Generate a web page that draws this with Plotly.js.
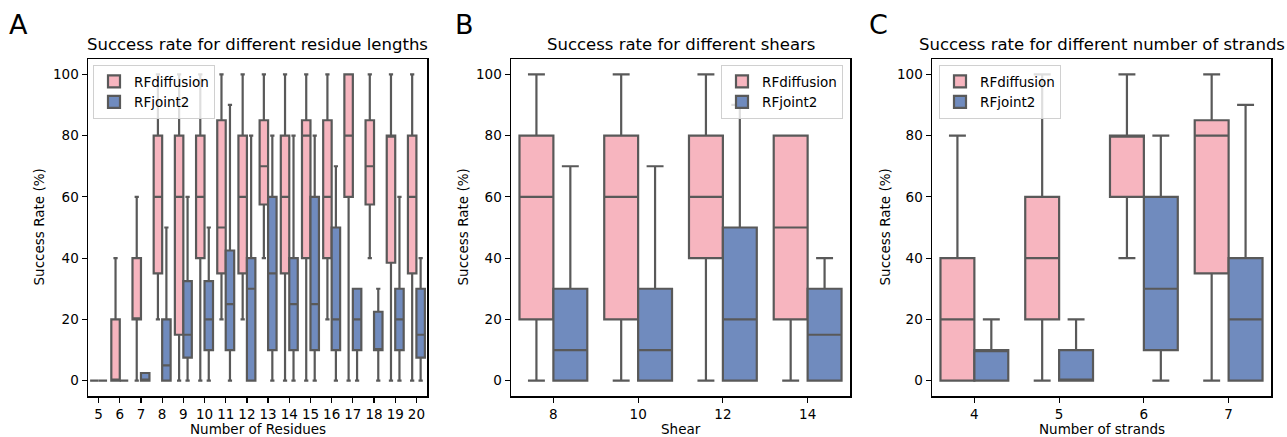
<!DOCTYPE html>
<html>
<head>
<meta charset="utf-8">
<script src="https://cdn.plot.ly/plotly-3.0.1.min.js"></script>
<style>html,body{margin:0;padding:0;background:#fff;}#chart{width:1287px;height:437px;}</style>
</head>
<body>
<div id="chart"></div>
<script>
// ---------- data ----------
const residueCats = ['5','6','7','8','9','10','11','12','13','14','15','16','17','18','19','20'];
const resDiffQ1    = [0, 0, 20, 35, 15, 40, 35, 35, 57.5, 35, 40, 40, 60, 57.5, 38.5, 35];
const resDiffMed   = [0, 0, 20, 60, 60, 60, 50, 60, 70, 60, 80, 60, 80, 70, 80, 60];
const resDiffQ3    = [0, 20, 40, 80, 80, 80, 85, 80, 85, 80, 85, 85, 100, 85, 80, 80];
const resDiffLo    = [0, 0, 0, 20, 0, 0, 20, 20, 40, 0, 0, 20, 0, 40, 0, 0];
const resDiffHi    = [0, 40, 60, 100, 100, 100, 100, 100, 100, 100, 100, 100, 100, 100, 100, 100];
const resJointQ1   = [0, 0, 0, 0, 7.5, 10, 10, 0, 10, 10, 10, 10, 10, 10, 10, 7.5];
const resJointMed  = [0, 0, 0, 5, 15, 20, 25, 30, 35, 25, 25, 20, 20, 10, 20, 15];
const resJointQ3   = [0, 0, 2.5, 20, 32.5, 32.5, 42.5, 40, 60, 40, 60, 50, 30, 22.5, 30, 30];
const resJointLo   = [0, 0, 0, 0, 0, 0, 0, 0, 0, 0, 0, 0, 0, 0, 0, 0];
const resJointHi   = [0, 0, 2.5, 50, 60, 50, 90, 80, 80, 80, 80, 70, 30, 30, 60, 40];

const shearCats    = ['8','10','12','14'];
const shDiffQ1     = [20, 20, 40, 20];
const shDiffMed    = [60, 60, 60, 50];
const shDiffQ3     = [80, 80, 80, 80];
const shDiffLo     = [0, 0, 0, 0];
const shDiffHi     = [100, 100, 100, 80];
const shJointQ1    = [0, 0, 0, 0];
const shJointMed   = [10, 10, 20, 15];
const shJointQ3    = [30, 30, 50, 30];
const shJointLo    = [0, 0, 0, 0];
const shJointHi    = [70, 70, 90, 40];

const strandCats   = ['4','5','6','7'];
const stDiffQ1     = [0, 20, 60, 35];
const stDiffMed    = [20, 40, 80, 80];
const stDiffQ3     = [40, 60, 80, 85];
const stDiffLo     = [0, 0, 40, 0];
const stDiffHi     = [80, 100, 100, 100];
const stJointQ1    = [0, 0, 10, 0];
const stJointMed   = [10, 0, 30, 20];
const stJointQ3    = [10, 10, 60, 40];
const stJointLo    = [0, 0, 0, 0];
const stJointHi    = [20, 20, 80, 90];

const yTicks = [0, 20, 40, 60, 80, 100];
const seriesNames = ['RFdiffusion', 'RFjoint2'];
const panelTitles = ['Success rate for different residue lengths', 'Success rate for different shears', 'Success rate for different number of strands'];
const xTitles = ['Number of Residues', 'Shear', 'Number of strands'];
const yTitle = 'Success Rate (%)';
const panelLetters = ['A', 'B', 'C'];

// ---------- styling ----------
const W = 1287, H = 437;
const PINK = '#F7B5BF', BLUE = '#708BBE', EDGE = '#595959';
const FONT = 'DejaVu Sans, sans-serif';
const px = x => x / W, py = y => 1 - y / H;

function box(name, cats, q1, med, q3, lo, hi, color, xa, ya, legend, panel) {
  return {
    type: 'box', name: name, x: cats, q1: q1, median: med, q3: q3,
    lowerfence: lo, upperfence: hi,
    fillcolor: color, line: {color: EDGE, width: 2.2}, whiskerwidth: 0.5,
    boxpoints: false, hoverinfo: 'skip',
    alignmentgroup: panel, offsetgroup: name,
    xaxis: xa, yaxis: ya, legend: legend
  };
}

const data = [
  box(seriesNames[0], residueCats, resDiffQ1, resDiffMed, resDiffQ3, resDiffLo, resDiffHi, PINK, 'x', 'y', 'legend', 'A'),
  box(seriesNames[1], residueCats, resJointQ1, resJointMed, resJointQ3, resJointLo, resJointHi, BLUE, 'x', 'y', 'legend', 'A'),
  box(seriesNames[0], shearCats, shDiffQ1, shDiffMed, shDiffQ3, shDiffLo, shDiffHi, PINK, 'x2', 'y2', 'legend2', 'B'),
  box(seriesNames[1], shearCats, shJointQ1, shJointMed, shJointQ3, shJointLo, shJointHi, BLUE, 'x2', 'y2', 'legend2', 'B'),
  box(seriesNames[0], strandCats, stDiffQ1, stDiffMed, stDiffQ3, stDiffLo, stDiffHi, PINK, 'x3', 'y3', 'legend3', 'C'),
  box(seriesNames[1], strandCats, stJointQ1, stJointMed, stJointQ3, stJointLo, stJointHi, BLUE, 'x3', 'y3', 'legend3', 'C')
];

const frames = [[88, 427], [511, 850], [932, 1271]];
const yDom = [py(396), py(59)];
const tickFont = {family: FONT, size: 13.5, color: '#000'};

function xAxis(i, cats, anchor) {
  return {
    domain: [px(frames[i][0]), px(frames[i][1])], anchor: anchor,
    type: 'category', categoryorder: 'array', categoryarray: cats,
    range: [-0.5, cats.length - 0.5],
    showline: true, mirror: true, linecolor: '#000', linewidth: 1.5,
    ticks: 'outside', ticklen: 5, tickwidth: 1.2, tickcolor: '#000',
    showgrid: false, zeroline: false, tickfont: tickFont, fixedrange: true
  };
}
function yAxis(anchor) {
  return {
    domain: yDom, anchor: anchor, range: [-5, 105],
    tickvals: yTicks, ticktext: yTicks.map(String),
    showline: true, mirror: true, linecolor: '#000', linewidth: 1.5,
    ticks: 'outside', ticklen: 5, tickwidth: 1.2, tickcolor: '#000',
    showgrid: false, zeroline: false, tickfont: tickFont, fixedrange: true
  };
}
function legend(x, xanchor) {
  return {
    x: x, xanchor: xanchor, y: py(65), yanchor: 'top',
    bgcolor: 'rgba(255,255,255,0.8)', bordercolor: '#d0d0d0', borderwidth: 1,
    font: {family: FONT, size: 13.5, color: '#000'}, tracegroupgap: 2
  };
}

const annotations = [];
const centers = frames.map(f => (f[0] + f[1]) / 2);
panelTitles.forEach((t, i) => annotations.push({
  text: t, xref: 'paper', yref: 'paper', x: px(centers[i]), y: py(44),
  xanchor: 'center', yanchor: 'middle', showarrow: false,
  font: {family: FONT, size: 16.5, color: '#000'}
}));
xTitles.forEach((t, i) => annotations.push({
  text: t, xref: 'paper', yref: 'paper', x: px(centers[i]), y: py(428.5),
  xanchor: 'center', yanchor: 'middle', showarrow: false,
  font: {family: FONT, size: 13.5, color: '#000'}
}));
const yTitleX = [38, 462, 884];
yTitleX.forEach(x => annotations.push({
  text: yTitle, xref: 'paper', yref: 'paper', x: px(x), y: py(227.5),
  xanchor: 'center', yanchor: 'middle', showarrow: false, textangle: -90,
  font: {family: FONT, size: 13.5, color: '#000'}
}));
const letterX = [18, 464, 878];
panelLetters.forEach((t, i) => annotations.push({
  text: t, xref: 'paper', yref: 'paper', x: px(letterX[i]), y: py(24),
  xanchor: 'center', yanchor: 'middle', showarrow: false,
  font: {family: 'DejaVu Sans, sans-serif', size: 27, color: '#000'}
}));

const layout = {
  width: W, height: H, margin: {l: 0, r: 0, t: 0, b: 0},
  paper_bgcolor: '#fff', plot_bgcolor: '#fff',
  boxmode: 'group', boxgap: 0.2, boxgroupgap: 0,
  showlegend: true,
  xaxis: xAxis(0, residueCats, 'y'), yaxis: yAxis('x'),
  xaxis2: xAxis(1, shearCats, 'y2'), yaxis2: yAxis('x2'),
  xaxis3: xAxis(2, strandCats, 'y3'), yaxis3: yAxis('x3'),
  legend: legend(px(93), 'left'),
  legend2: legend(px(843), 'right'),
  legend3: legend(px(939), 'left'),
  annotations: annotations
};

Plotly.newPlot('chart', data, layout, {staticPlot: true, displayModeBar: false});
</script>
</body>
</html>
